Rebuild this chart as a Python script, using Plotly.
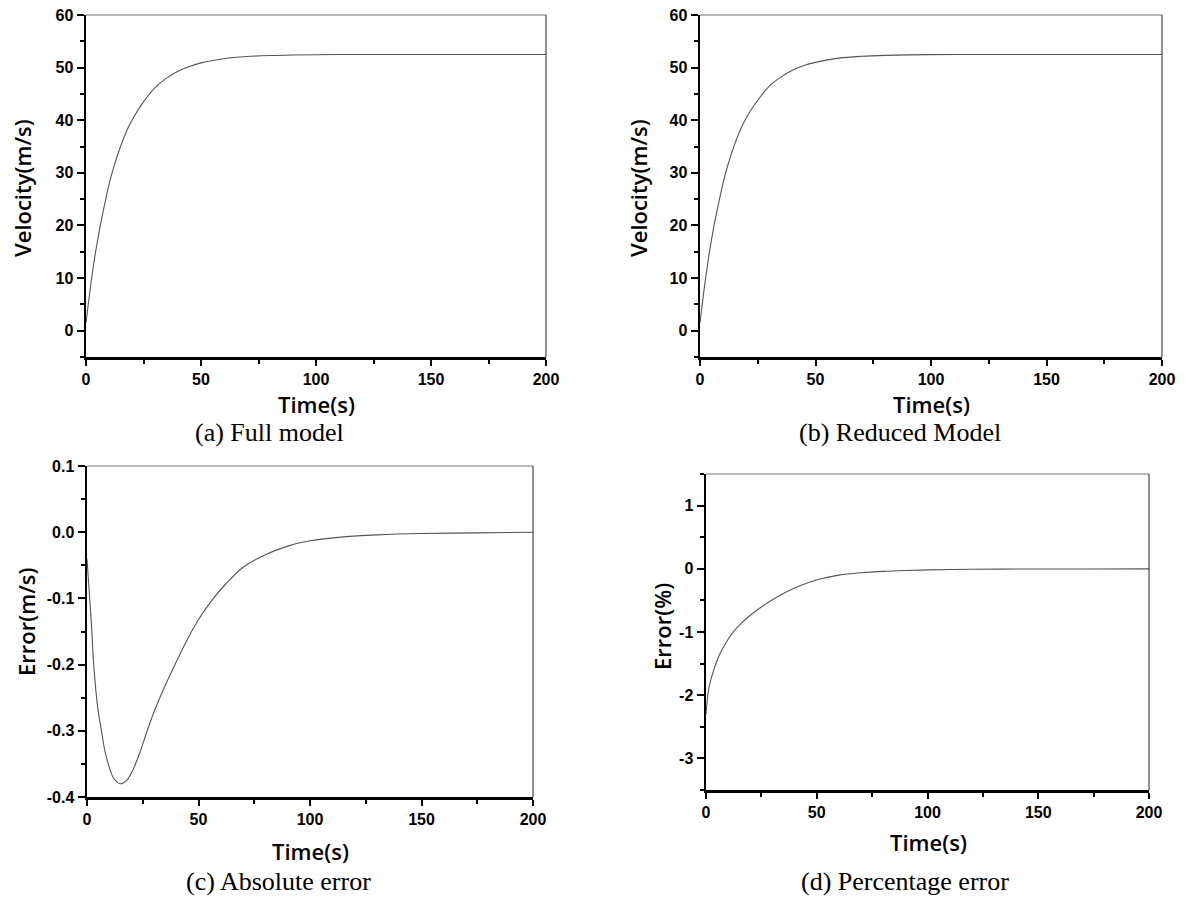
import plotly.graph_objects as go

W, H = 1188, 899

# ---------------- data ----------------
t_full = [0, 2, 4, 6, 8, 10, 12, 15, 18, 21, 25, 30, 35, 40, 45, 50, 60, 70, 80, 90, 100, 120, 140, 160, 180, 200]
v_full = [1.5, 8.5, 14.5, 19.5, 23.8, 27.8, 31.0, 35.0, 38.3, 40.8, 43.5, 46.2, 48.0, 49.3, 50.2, 50.9, 51.7, 52.1, 52.3, 52.4, 52.45, 52.5, 52.5, 52.5, 52.5, 52.5]

t_red = [0, 2, 4, 6, 8, 10, 12, 15, 18, 21, 25, 30, 35, 40, 45, 50, 60, 70, 80, 90, 100, 120, 140, 160, 180, 200]
v_red = [1.5, 8.6, 14.7, 19.8, 24.1, 28.1, 31.4, 35.4, 38.7, 41.2, 43.8, 46.5, 48.2, 49.5, 50.4, 51.0, 51.8, 52.15, 52.33, 52.42, 52.46, 52.5, 52.5, 52.5, 52.5, 52.5]

t_abs = [0, 1, 2, 3, 4, 5, 6.5, 8, 10, 12, 15, 18, 21, 24, 27, 30, 35, 40, 45, 50, 56, 62, 70, 80, 90, 100, 115, 130, 150, 175, 200]
e_abs = [-0.04, -0.09, -0.14, -0.20, -0.24, -0.27, -0.30, -0.33, -0.355, -0.372, -0.380, -0.374, -0.356, -0.33, -0.30, -0.272, -0.232, -0.196, -0.162, -0.132, -0.103, -0.079, -0.053, -0.034, -0.021, -0.013, -0.007, -0.004, -0.002, -0.001, 0.0]

t_pct = [0, 0.5, 1, 2, 3.5, 5, 6.5, 9, 12.5, 16, 20, 25, 30, 36, 43, 51, 60, 70, 80, 90, 100, 120, 140, 170, 200]
e_pct = [-2.3, -2.1, -1.95, -1.78, -1.6, -1.45, -1.33, -1.17, -0.99, -0.86, -0.735, -0.605, -0.49, -0.37, -0.26, -0.165, -0.1, -0.063, -0.04, -0.026, -0.017, -0.008, -0.004, -0.002, -0.001]

x_ticks = [0, 50, 100, 150, 200]
vel_ticks = [0, 10, 20, 30, 40, 50, 60]
abs_ticks = [-0.4, -0.3, -0.2, -0.1, 0.0, 0.1]
abs_ticktext = ["-0.4", "-0.3", "-0.2", "-0.1", "0.0", "0.1"]
pct_ticks = [-3, -2, -1, 0, 1]
pct_ticktext = ["-3", "-2", "-1", "0", "1"]

captions = ["(a) Full model", "(b) Reduced Model", "(c) Absolute error", "(d) Percentage error"]
y_titles = ["Velocity(m/s)", "Velocity(m/s)", "Error(m/s)", "Error(%)"]
x_title = "Time(s)"

# ---------------- layout geometry (pixels) ----------------
def px_x(p):
    return p / W

def px_y(p):
    return 1 - p / H

panels = [
    # (x0, x1, ytop, ybottom)
    (86, 546, 15, 357),
    (700, 1162, 15, 357),
    (87, 533, 466, 797),
    (706, 1149, 474, 790),
]

LINE = "#555555"
fig = go.Figure()

series = [(t_full, v_full), (t_red, v_red), (t_abs, e_abs), (t_pct, e_pct)]
for i, (tx, ty) in enumerate(series):
    sfx = "" if i == 0 else str(i + 1)
    fig.add_trace(go.Scatter(x=tx, y=ty, mode="lines", xaxis="x" + sfx, yaxis="y" + sfx,
                             line=dict(color=LINE, width=1.1, shape="spline", smoothing=0.9),
                             showlegend=False, hoverinfo="skip"))

tickfont = dict(family="Liberation Sans, Arial, sans-serif", size=16, color="black", weight="bold")

yspecs = [
    dict(range=[-5, 60], tickvals=vel_ticks, ticktext=[str(v) for v in vel_ticks], minor_dtick=5),
    dict(range=[-5, 60], tickvals=vel_ticks, ticktext=[str(v) for v in vel_ticks], minor_dtick=5),
    dict(range=[-0.4, 0.1], tickvals=abs_ticks, ticktext=abs_ticktext, minor_dtick=0.05),
    dict(range=[-3.5, 1.5], tickvals=pct_ticks, ticktext=pct_ticktext, minor_dtick=0.5),
]

layout = {}
for i, (x0, x1, yt, yb) in enumerate(panels):
    sfx = "" if i == 0 else str(i + 1)
    ys = yspecs[i]
    layout["xaxis" + sfx] = dict(
        domain=[px_x(x0), px_x(x1)], range=[0, 200], anchor="y" + sfx, automargin=False,
        tickvals=x_ticks, ticktext=[str(v) for v in x_ticks],
        showline=True, linecolor="black", linewidth=2.5,
        ticks="outside", ticklen=6, tickwidth=2, tickcolor="black",
        minor=dict(ticks="outside", ticklen=4, tickwidth=2, tickcolor="black", dtick=25, tick0=0),
        showgrid=False, zeroline=False, tickfont=tickfont, fixedrange=True,
    )
    layout["yaxis" + sfx] = dict(
        domain=[px_y(yb), px_y(yt)], range=ys["range"], anchor="x" + sfx, automargin=False,
        tickvals=ys["tickvals"], ticktext=ys["ticktext"],
        showline=True, linecolor="black", linewidth=2.5,
        ticks="outside", ticklen=7, tickwidth=2, tickcolor="black",
        minor=dict(ticks="outside", ticklen=4, tickwidth=2, tickcolor="black",
                   dtick=ys["minor_dtick"], tick0=0),
        showgrid=False, zeroline=False, tickfont=tickfont, fixedrange=True,
    )

fig.update_layout(**layout)

# thin top/right frame lines
shapes = []
for i in range(4):
    sfx = "" if i == 0 else str(i + 1)
    shapes.append(dict(type="line", xref="x" + sfx + " domain", yref="y" + sfx + " domain",
                       x0=0, x1=1, y0=1, y1=1, line=dict(color="#777777", width=1.2)))
    shapes.append(dict(type="line", xref="x" + sfx + " domain", yref="y" + sfx + " domain",
                       x0=1, x1=1, y0=0, y1=1, line=dict(color="#222222", width=1)))

# annotations: axis titles and captions
title_font = dict(family="Open Sans, sans-serif", size=22, color="black", weight=600)
cap_font = dict(family="Liberation Serif, Times New Roman, serif", size=26, color="black")

ytitle_pos = [(22, 188), (638, 188), (26, 622), (662, 627)]
xtitle_pos = [(316, 404), (931, 404), (310, 851), (928, 842)]
cap_pos = [(269, 433), (900, 433), (278, 881), (905, 881)]

ann = []
for i in range(4):
    xp, yp = ytitle_pos[i]
    ann.append(dict(text=y_titles[i], x=px_x(xp), y=px_y(yp), xref="paper", yref="paper",
                    textangle=-90, showarrow=False, font=title_font, xanchor="center", yanchor="middle"))
    xp, yp = xtitle_pos[i]
    ann.append(dict(text=x_title, x=px_x(xp), y=px_y(yp), xref="paper", yref="paper",
                    showarrow=False, font=title_font, xanchor="center", yanchor="middle",
                    borderpad=0))
    xp, yp = cap_pos[i]
    ann.append(dict(text=captions[i], x=px_x(xp), y=px_y(yp), xref="paper", yref="paper",
                    showarrow=False, font=cap_font, xanchor="center", yanchor="middle"))

fig.update_layout(
    width=W, height=H, margin=dict(l=0, r=0, t=0, b=0),
    paper_bgcolor="white", plot_bgcolor="white",
    shapes=shapes, annotations=ann, showlegend=False,
)

fig.write_html("out.html", config={"displayModeBar": False, "staticPlot": True},
               post_script="document.body.style.margin='0px';document.body.style.overflow='hidden';")
